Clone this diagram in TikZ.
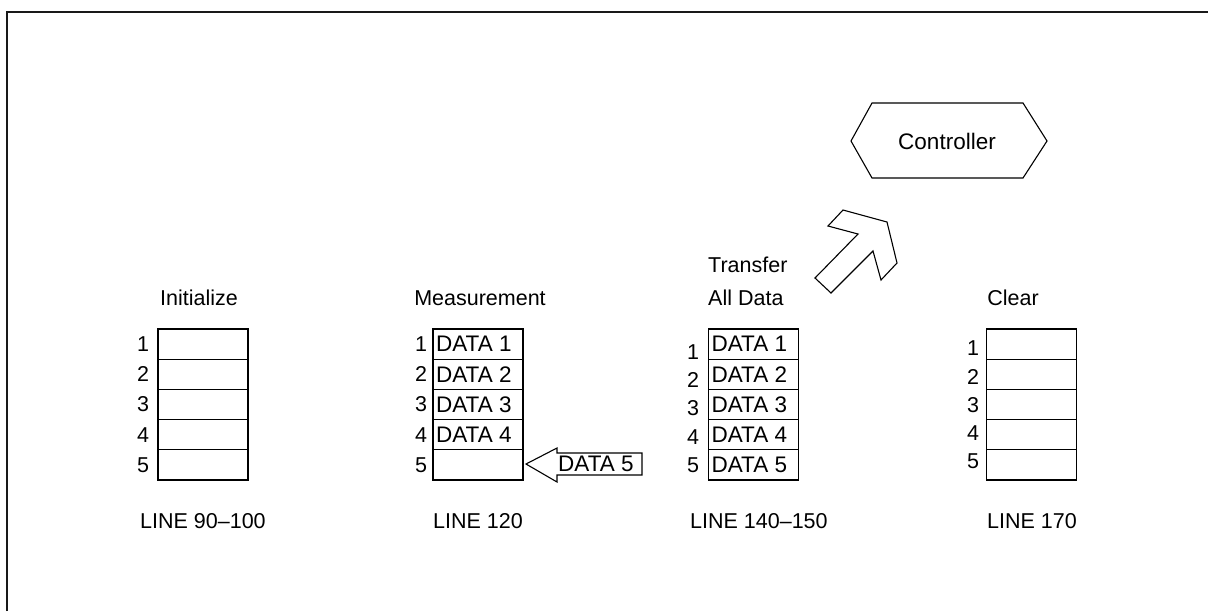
\documentclass[tikz,border=0pt]{standalone}
\usepackage{fontspec}
\setmainfont{Liberation Sans}
\begin{document}
\begin{tikzpicture}[x=1pt,y=-1pt,
  font=\fontsize{21.5}{25}\selectfont,
  cell/.style={draw, line width=1.1pt, minimum width=90pt, minimum height=30.2pt, inner sep=0pt},
  num/.style={inner sep=0pt},
  lbl/.style={inner sep=0pt, anchor=west},
  dat/.style={inner sep=0pt, anchor=west, font=\fontsize{22.5}{26}\selectfont},
  outline/.style={draw, line width=1.1pt, line join=miter}]
\useasboundingbox (0,0) rectangle (1208,611);
\draw[line width=2.8pt, black!90] (7,611) -- (7,12) -- (1208,12);

% Initialize
\node[num] (tinit) at (199,298) {Initialize};
\foreach \j in {1,...,5} {
  \node[cell] (a\j) at (203,{329+30.2*(\j-0.5)}) {};
  \node[num] (na\j) at (143,{329+30.2*(\j-0.5)}) {\j};
}
\node[lbl] (la) at (140,521) {LINE 90–100};

% Measurement
\node[num] (tmeas) at (480,298) {Measurement};
\foreach \j in {1,...,5} {
  \node[cell] (b\j) at (478,{329+30.2*(\j-0.5)}) {};
  \node[num] (nb\j) at (421,{329+30.2*(\j-0.5)}) {\j};
}
\foreach \j in {1,...,4} {
  \node[dat] (db\j) at ([xshift=3.5pt]b\j.west) {DATA \j};
}
\draw[outline] (526,464) -- (557,448) -- (557,453) -- (642,453) -- (642,475) -- (557,475) -- (557,482) -- cycle;
\node[dat] (d5) at (558,464) {DATA 5};
\node[lbl] (lb) at (433,521) {LINE 120};

% Transfer
\node[lbl] (ttr1) at (708,265) {Transfer};
\node[lbl] (ttr2) at (708,298) {All Data};
\foreach \j in {1,...,5} {
  \node[cell] (c\j) at (753.5,{329+30.2*(\j-0.5)}) {};
  \node[num] (nc\j) at (693,{352+28.25*(\j-1)}) {\j};
  \node[dat] (dc\j) at ([xshift=3.5pt]c\j.west) {DATA \j};
}
\node[lbl] (lc) at (690,521) {LINE 140–150};

% Clear
\node[num] (tclr) at (1013,298) {Clear};
\foreach \j in {1,...,5} {
  \node[cell] (e\j) at (1031.5,{329+30.2*(\j-0.5)}) {};
  \node[num] (ne\j) at (973,{348.5+28.25*(\j-1)}) {\j};
}
\node[lbl] (le) at (987,521) {LINE 170};

% Controller
\draw[outline] (851,141) -- (872,103) -- (1023,103) -- (1047,141) -- (1023,178) -- (872,178) -- cycle;
\node[num, font=\fontsize{22.5}{26}\selectfont] (ctrl) at (947,141) {Controller};

% big transfer arrow
\draw[outline] (843,210) -- (887,222) -- (897,263) -- (881,280) -- (873,251) -- (831,293) -- (815,278) -- (858,234) -- (828,226) -- cycle;
\end{tikzpicture}
\end{document}
